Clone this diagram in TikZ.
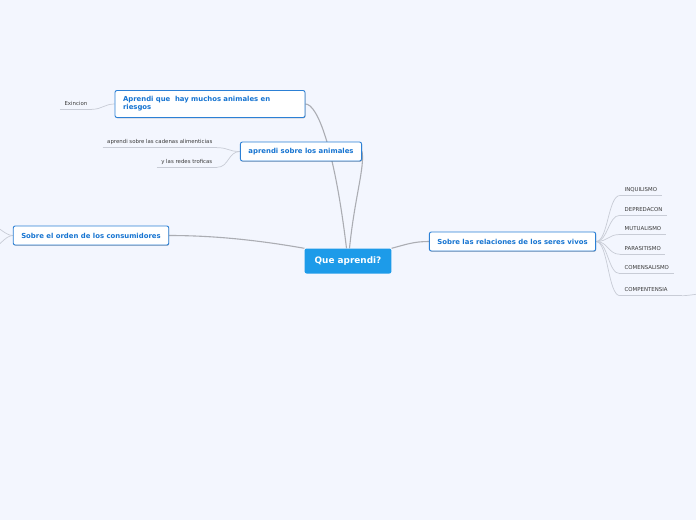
\documentclass[tikz,border=0pt]{standalone}
\usepackage{fontspec}
\setmainfont{DejaVu Sans}
\usepackage{xcolor}
\usetikzlibrary{shadows,backgrounds}
\definecolor{canvas}{HTML}{F3F6FE}
\definecolor{rootblue}{HTML}{1D9BE9}
\definecolor{topicblue}{HTML}{2C80D5}
\definecolor{topictext}{HTML}{1674D1}
\definecolor{leafgray}{HTML}{3A3A3A}
\definecolor{branchgray}{HTML}{ABADB3}
\definecolor{twiggray}{HTML}{C8CCD6}

\begin{document}
\begin{tikzpicture}[
    x=1pt, y=-1pt,
    root/.style={fill=rootblue, text=white, rounded corners=2pt, inner xsep=10pt, minimum height=25pt, font=\fontsize{8.9}{10}\selectfont\bfseries},
    topic/.style={draw=topicblue, line width=0.9pt, fill=white, text=topictext, rounded corners=2pt, inner xsep=8pt, minimum height=19pt, font=\fontsize{6.9}{8}\selectfont\bfseries, drop shadow={shadow xshift=0.5pt, shadow yshift=-0.8pt, opacity=0.25, fill=black}},
    leaf/.style={text=leafgray, inner xsep=4.5pt, inner ysep=3pt, text height=4pt, text depth=1pt, font=\fontsize{5.4}{6}\selectfont},
    uline/.style={draw=twiggray, line width=0.6pt},
    trunk/.style={draw=branchgray, line width=1.1pt},
    twig/.style={draw=twiggray, line width=0.7pt},
]
\useasboundingbox (0,0) rectangle (696,520);

\node[root] (que) at (348,261) {Que aprendi?};
\node[topic, minimum height=27pt, text width=174pt, align=left] (riesgo) at (210,104) {Aprendi que~ hay muchos animales en\\riesgos};
\node[topic] (anim) at (301,151.5) {aprendi sobre los animales};
\node[topic] (consum) at (91,235.5) {Sobre el orden de los consumidores};
\node[topic] (relac) at (512.5,241.5) {Sobre las relaciones de los seres vivos};

\node[leaf, anchor=south east] (exinc) at (92,109.3) {Exincion};
\node[leaf, anchor=south east] (cadena) at (217,147.7) {aprendi sobre las cadenas alimenticias};
\node[leaf, anchor=south east] (redes) at (217,167.3) {y las redes troficas};

\node[leaf, anchor=south west] (inqui) at (620,195.5) {INQUILISMO};
\node[leaf, anchor=south west] (depre) at (620,215.3) {DEPREDACON};
\node[leaf, anchor=south west] (mutua) at (620,234.5) {MUTUALISMO};
\node[leaf, anchor=south west] (paras) at (620,254.3) {PARASITISMO};
\node[leaf, anchor=south west] (comen) at (620,273.7) {COMENSALISMO};
\node[leaf, anchor=south west] (compe) at (620,295.7) {COMPENTENSIA};

\coordinate (offup) at (-10,225);
\coordinate (offdown) at (-10,249);
\coordinate (offright) at (716,292);

\begin{scope}[on background layer]
\fill[canvas] (0,0) rectangle (696,520);
\clip (0,0) rectangle (696,520);
\draw[uline] (exinc.south west) -- (exinc.south east);
\draw[uline] (cadena.south west) -- (cadena.south east);
\draw[uline] (redes.south west) -- (redes.south east);
\draw[uline] (inqui.south west) -- (inqui.south east);
\draw[uline] (depre.south west) -- (depre.south east);
\draw[uline] (mutua.south west) -- (mutua.south east);
\draw[uline] (paras.south west) -- (paras.south east);
\draw[uline] (comen.south west) -- (comen.south east);
\draw[uline] (compe.south west) -- ([xshift=10pt]compe.south east);

\draw[trunk] ([xshift=-1.5pt]que.north) .. controls +(-12,-100) and +(12,0) .. (riesgo.east);
\draw[trunk] ([xshift=1.5pt]que.north) .. controls +(5,-50) and +(3,15) .. (anim.east);
\draw[trunk] (que.north west) .. controls +(-40,-7) and +(50,0) .. (consum.east);
\draw[trunk] (que.north east) .. controls +(15,-4) and +(-15,0) .. (relac.west);

\draw[twig] (riesgo.west) .. controls +(-10,0) and +(10,0) .. (exinc.south east);
\draw[twig] (anim.west) .. controls +(-12,0) and +(12,0) .. (cadena.south east);
\draw[twig] (anim.west) .. controls +(-12,0) and +(12,0) .. (redes.south east);
\draw[twig] (consum.west) .. controls +(-8,0) and +(8,0) .. (offup);
\draw[twig] (consum.west) .. controls +(-8,0) and +(8,0) .. (offdown);
\draw[twig] (relac.east) .. controls +(12,0) and +(-12,0) .. (inqui.south west);
\draw[twig] (relac.east) .. controls +(12,0) and +(-12,0) .. (depre.south west);
\draw[twig] (relac.east) .. controls +(12,0) and +(-12,0) .. (mutua.south west);
\draw[twig] (relac.east) .. controls +(12,0) and +(-12,0) .. (paras.south west);
\draw[twig] (relac.east) .. controls +(12,0) and +(-12,0) .. (comen.south west);
\draw[twig] (relac.east) .. controls +(12,0) and +(-12,0) .. (compe.south west);
\draw[twig] ([xshift=10pt]compe.south east) .. controls +(8,0) and +(-8,0) .. (offright);
\end{scope}
\end{tikzpicture}
\end{document}
